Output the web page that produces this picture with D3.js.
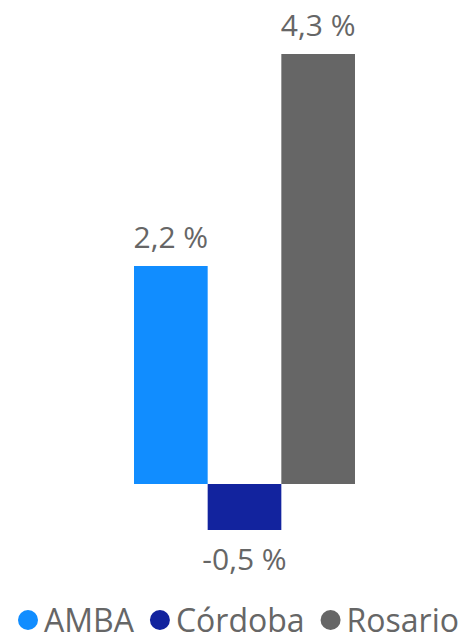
<!DOCTYPE html>
<html>
<head>
<meta charset="utf-8">
<script src="https://cdn.jsdelivr.net/npm/d3@7"></script>
<style>
  html, body { margin: 0; padding: 0; background: #fff; }
  svg text { font-family: "Open Sans", "Noto Sans", sans-serif; fill: #666666; }
</style>
</head>
<body>
<div id="chart"></div>
<script>
const regions = ["AMBA", "Córdoba", "Rosario"];
const values = [2.18, -0.46, 4.3];
const labels = ["2,2 %", "-0,5 %", "4,3 %"];
const colors = ["#118DFF", "#12239E", "#666666"];

const width = 471, height = 640;

const svg = d3.select("#chart").append("svg")
  .attr("width", width)
  .attr("height", height);

// value axis: 0 sits at y=484, 4.3 at y=54
const y = d3.scaleLinear()
  .domain([0, 4.3])
  .range([484, 54]);

const x = d3.scaleBand()
  .domain(regions)
  .range([134, 355])
  .padding(0);

svg.append("g")
  .selectAll("rect")
  .data(regions)
  .join("rect")
  .attr("x", d => x(d))
  .attr("width", x.bandwidth())
  .attr("y", (d, i) => Math.min(y(values[i]), y(0)))
  .attr("height", (d, i) => Math.abs(y(values[i]) - y(0)))
  .attr("fill", (d, i) => colors[i]);

svg.append("g")
  .selectAll("text")
  .data(regions)
  .join("text")
  .attr("x", d => x(d) + x.bandwidth() / 2)
  .attr("y", (d, i) => values[i] >= 0 ? y(values[i]) - 18 : y(values[i]) + 40)
  .attr("text-anchor", "middle")
  .attr("font-size", 30)
  .text((d, i) => labels[i]);

// legend
const legend = svg.append("g");
let cursor = 0;
regions.forEach((r, i) => {
  const item = legend.append("g").attr("transform", `translate(${cursor},0)`);
  item.append("circle")
    .attr("cx", 10)
    .attr("cy", 0)
    .attr("r", 10)
    .attr("fill", colors[i]);
  const t = item.append("text")
    .attr("x", 26)
    .attr("y", 12)
    .attr("font-size", 32)
    .text(r);
  cursor += 26 + t.node().getComputedTextLength() + 16;
});
const legendWidth = cursor - 16;
legend.attr("transform", `translate(${(width - legendWidth) / 2 + 3},620)`);
</script>
</body>
</html>
